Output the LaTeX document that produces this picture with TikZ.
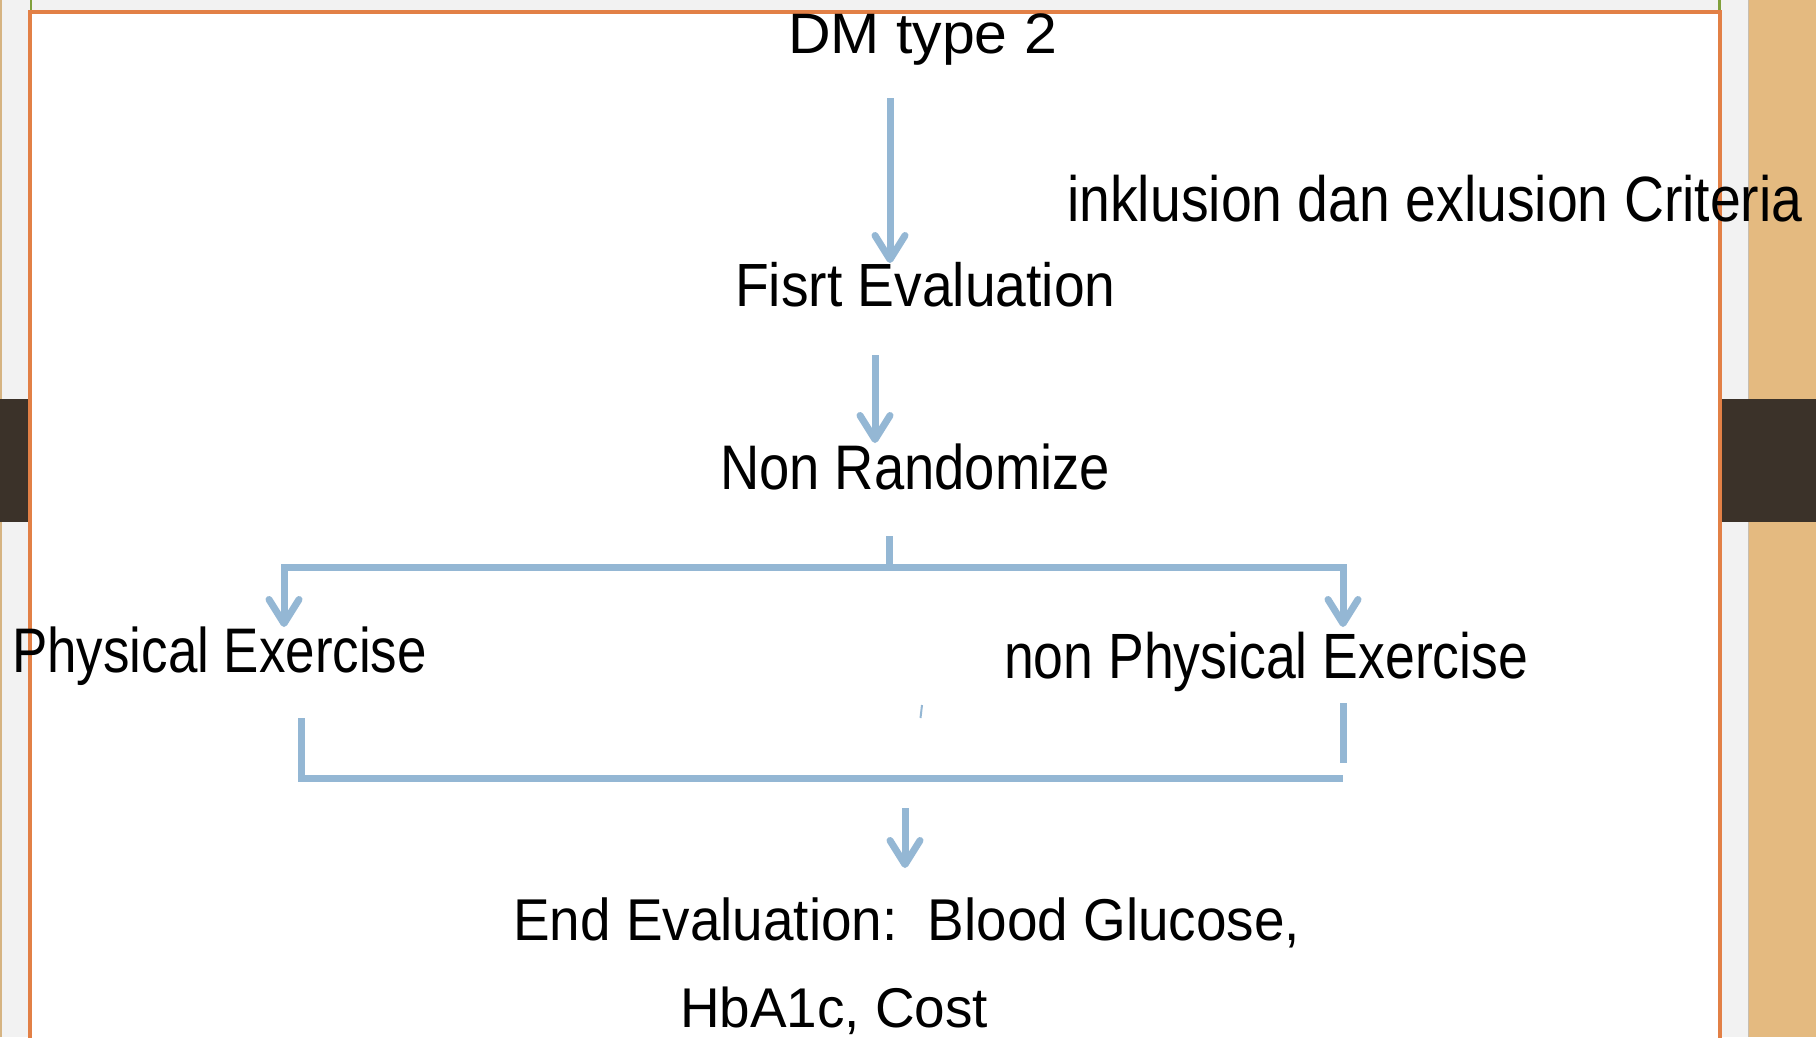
\documentclass[tikz,border=0pt]{standalone}
\usepackage{graphicx}
\usepackage{fontspec}
\setmainfont{Liberation Sans}
\usetikzlibrary{arrows.meta}
\definecolor{flowblue}{RGB}{148,183,212}
\definecolor{frameorange}{RGB}{226,128,70}
\definecolor{woodtan}{RGB}{228,186,128}
\definecolor{paperg}{RGB}{242,242,242}
\definecolor{darkband}{RGB}{59,50,41}
\definecolor{greenline}{RGB}{128,160,60}
\definecolor{edgetan}{RGB}{214,180,130}
\definecolor{stripline}{RGB}{200,190,175}
\newcommand\sizedtext[3]{\scalebox{#2}[1]{\fontsize{#1}{#1}\selectfont #3}}
\tikzset{
  flow/.style={draw=flowblue, line width=7pt},
  arr/.style={flow, -{Straight Barb[length=24pt,width=30pt,round]}},
  lbl/.style={inner sep=0pt, anchor=base west, text=black},
}
\begin{document}
\begin{tikzpicture}[x=1pt,y=-1pt]
\useasboundingbox (0,0) rectangle (1816,1037);
% background
\fill[paperg] (0,0) rectangle (1749,1037);
\fill[woodtan] (1749,0) rectangle (1816,1037);
\draw[stripline, line width=1.5pt] (1748.5,0) -- (1748.5,1037);
\fill[edgetan] (0,0) rectangle (1.5,1037);
\fill[darkband] (0,399) rectangle (29,522);
\fill[darkband] (1722,399) rectangle (1816,522);
\fill[white] (30,12) rectangle (1720,1037);
\draw[greenline, line width=2.5pt] (31,0) -- (31,10);
\draw[greenline, line width=2.5pt] (1719.5,0) -- (1719.5,10);
\draw[frameorange, line width=4pt] (30,1040) -- (30,11.5) -- (1720,11.5) -- (1720,1040);
% texts
\node[lbl] (dm)   at (788,53)   {\sizedtext{57}{1.035}{DM type 2}};
\node[lbl] (fe)   at (735,306)  {\sizedtext{61}{0.905}{Fisrt Evaluation}};
\node[lbl] (nr)   at (720,489)  {\sizedtext{63}{0.863}{Non Randomize}};
\node[lbl] (crit) at (1067,221) {\sizedtext{64}{0.865}{inklusion dan exlusion Criteria}};
\node[lbl] (pe)   at (12,672)   {\sizedtext{63}{0.84}{Physical Exercise}};
\node[lbl] (npe)  at (1004,678) {\sizedtext{64}{0.837}{non Physical Exercise}};
\node[lbl] (ee1)  at (513,940)  {\sizedtext{59}{0.93}{End Evaluation:\ \ Blood Glucose,}};
\node[lbl] (ee2)  at (680,1027) {\sizedtext{56}{0.98}{HbA1c, Cost}};
% connector ends
\coordinate (c1s) at (890,98);
\coordinate (c1e) at (890,263);
\coordinate (c2s) at (875,355);
\coordinate (c2e) at (875,443);
\coordinate (bs) at (889,536);
\coordinate (bj) at (889,567);
\coordinate (bl) at (284,567);
\coordinate (br) at (1343,567);
\coordinate (ble) at (284,627);
\coordinate (bre) at (1343,627);
\coordinate (ls) at (301,718);
\coordinate (lc) at (301,778);
\coordinate (lr) at (1343,778);
\coordinate (rs) at (1343,703);
\coordinate (re) at (1343,763);
\coordinate (ds) at (905,808);
\coordinate (de) at (905,868);
% connectors
\draw[arr] (c1s) -- (c1e);
\draw[arr] (c2s) -- (c2e);
\draw[flow] (bs) -- (bj);
\draw[flow, {Straight Barb[length=24pt,width=30pt,round]}-{Straight Barb[length=24pt,width=30pt,round]}] (ble) -- (bl) -- (br) -- (bre);
\draw[flow] (ls) -- (lc) -- (lr);
\draw[flow] (rs) -- (re);
\draw[flowblue, line width=2pt] (922,705) -- (920.5,718);
\draw[arr] (ds) -- (de);
\end{tikzpicture}
\end{document}
